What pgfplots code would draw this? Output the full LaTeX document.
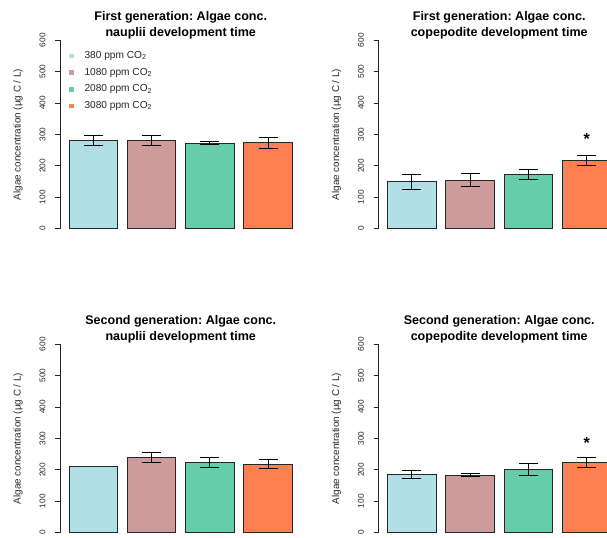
\documentclass[border=0pt]{standalone}
\usepackage{pgfplots}
\pgfplotsset{compat=1.18}
\usepackage{fontspec}
\setmainfont{Liberation Sans}
\frenchspacing
\definecolor{c1}{HTML}{B0E0E6}
\definecolor{c2}{HTML}{CD9B9B}
\definecolor{c3}{HTML}{66CDAA}
\definecolor{c4}{HTML}{FF7F50}
\pgfplotsset{
  panel/.style={
    scale only axis, width=181pt, height=141.3pt,
    xmin=0.016, xmax=4.984, ymin=0, ymax=600,
    axis x line=none, axis y line*=left,
    axis line style={black!85, line width=0.6pt},
    xtick=\empty,
    ytick={0,100,...,600}, tick align=outside, major tick length=3.75pt,
    tick style={black!85, line width=0.6pt},
    /pgf/number format/assume math mode=true,
    yticklabel style={rotate=90, anchor=south, inner sep=0pt, font=\fontsize{6.2}{7}\selectfont, text=black!85},
    yticklabel shift=7pt,
    ylabel={Algae concentration (µg C / L)},
    every axis y label/.style={at={(axis description cs:0,0.5)}, xshift=-31.5pt, rotate=90, anchor=center, font=\fontsize{7.4}{9}\selectfont, text=black!85},
    title style={at={(axis description cs:0.5,1)}, anchor=south, inner sep=0pt, yshift=-5.5pt, align=center, font=\fontsize{9.4}{12}\selectfont\bfseries},
    clip=false,
    anchor=south west,
  },
  mybar/.style={ybar, bar width=1, bar shift=0pt, draw=black!85, line width=0.7pt, fill=#1,
    error bars/y dir=both, error bars/y explicit,
    error bars/error mark options={rotate=90, mark size=7.1pt, line width=0.7pt, black},
    error bars/error bar style={line width=0.7pt, black}},
  star/.style={only marks, mark=none, nodes near coords, point meta=explicit symbolic,
    every node near coord/.style={anchor=center, font=\fontsize{12}{12}\selectfont\bfseries}},
  sq/.style={legend image code/.code={\fill[#1, draw=none] (0pt,-1.7pt) rectangle (3.4pt,1.7pt); \path[draw=none, fill=none] (0,0) -- (11.5pt,0);}},
}
\begin{document}
\begin{tikzpicture}
\path[use as bounding box] (0,0) rectangle (455.25pt,-403.5pt);
\clip (0,0) rectangle (455.25pt,-403.5pt);

% Top left
\begin{axis}[panel, at={(45.05pt,-171.5pt)},
  title={First generation: Algae conc.\\nauplii development time},
  legend style={at={(rel axis cs:0.037,0.945)}, anchor=north west, draw=none, fill=none,
    font=\fontsize{7.6}{9}\selectfont, row sep=4.4pt, inner sep=0pt,
    nodes={inner sep=0pt, text height=5.8pt, text depth=2.2pt, text=black!85}},
  legend cell align=left]
\addplot[mybar=c1, sq=c1] coordinates {(0.7,281) +- (0,15)};
\addlegendentry{380 ppm CO\textsubscript{2}}
\addplot[mybar=c2, sq=c2] coordinates {(1.9,280) +- (0,16)};
\addlegendentry{1080 ppm CO\textsubscript{2}}
\addplot[mybar=c3, sq=c3] coordinates {(3.1,272) +- (0,5)};
\addlegendentry{2080 ppm CO\textsubscript{2}}
\addplot[mybar=c4, sq=c4] coordinates {(4.3,273) +- (0,18)};
\addlegendentry{3080 ppm CO\textsubscript{2}}
\end{axis}

% Top right
\begin{axis}[panel, at={(283.9pt,-171.5pt)},
  title={First generation: Algae conc.\\copepodite development time}]
\addplot[mybar=c1] coordinates {(0.7,150) +- (0,24)};
\addplot[mybar=c2] coordinates {(1.9,155) +- (0,20)};
\addplot[mybar=c3] coordinates {(3.1,172) +- (0,15)};
\addplot[mybar=c4] coordinates {(4.3,217) +- (0,16)};
\addplot[star] coordinates {(4.3,287) [*]};
\end{axis}

% Bottom left
\begin{axis}[panel, at={(45.05pt,-399.5pt)},
  title={Second generation: Algae conc.\\nauplii development time}]
\addplot[ybar, bar width=1, bar shift=0pt, draw=black!85, line width=0.7pt, fill=c1] coordinates {(0.7,211)};
\addplot[mybar=c2] coordinates {(1.9,238) +- (0,16)};
\addplot[mybar=c3] coordinates {(3.1,225) +- (0,16)};
\addplot[mybar=c4] coordinates {(4.3,218) +- (0,15)};
\end{axis}

% Bottom right
\begin{axis}[panel, at={(283.9pt,-399.5pt)},
  title={Second generation: Algae conc.\\copepodite development time}]
\addplot[mybar=c1] coordinates {(0.7,186) +- (0,12)};
\addplot[mybar=c2] coordinates {(1.9,183) +- (0,5)};
\addplot[mybar=c3] coordinates {(3.1,201) +- (0,20)};
\addplot[mybar=c4] coordinates {(4.3,223) +- (0,15)};
\addplot[star] coordinates {(4.3,284) [*]};
\end{axis}
\end{tikzpicture}
\end{document}
